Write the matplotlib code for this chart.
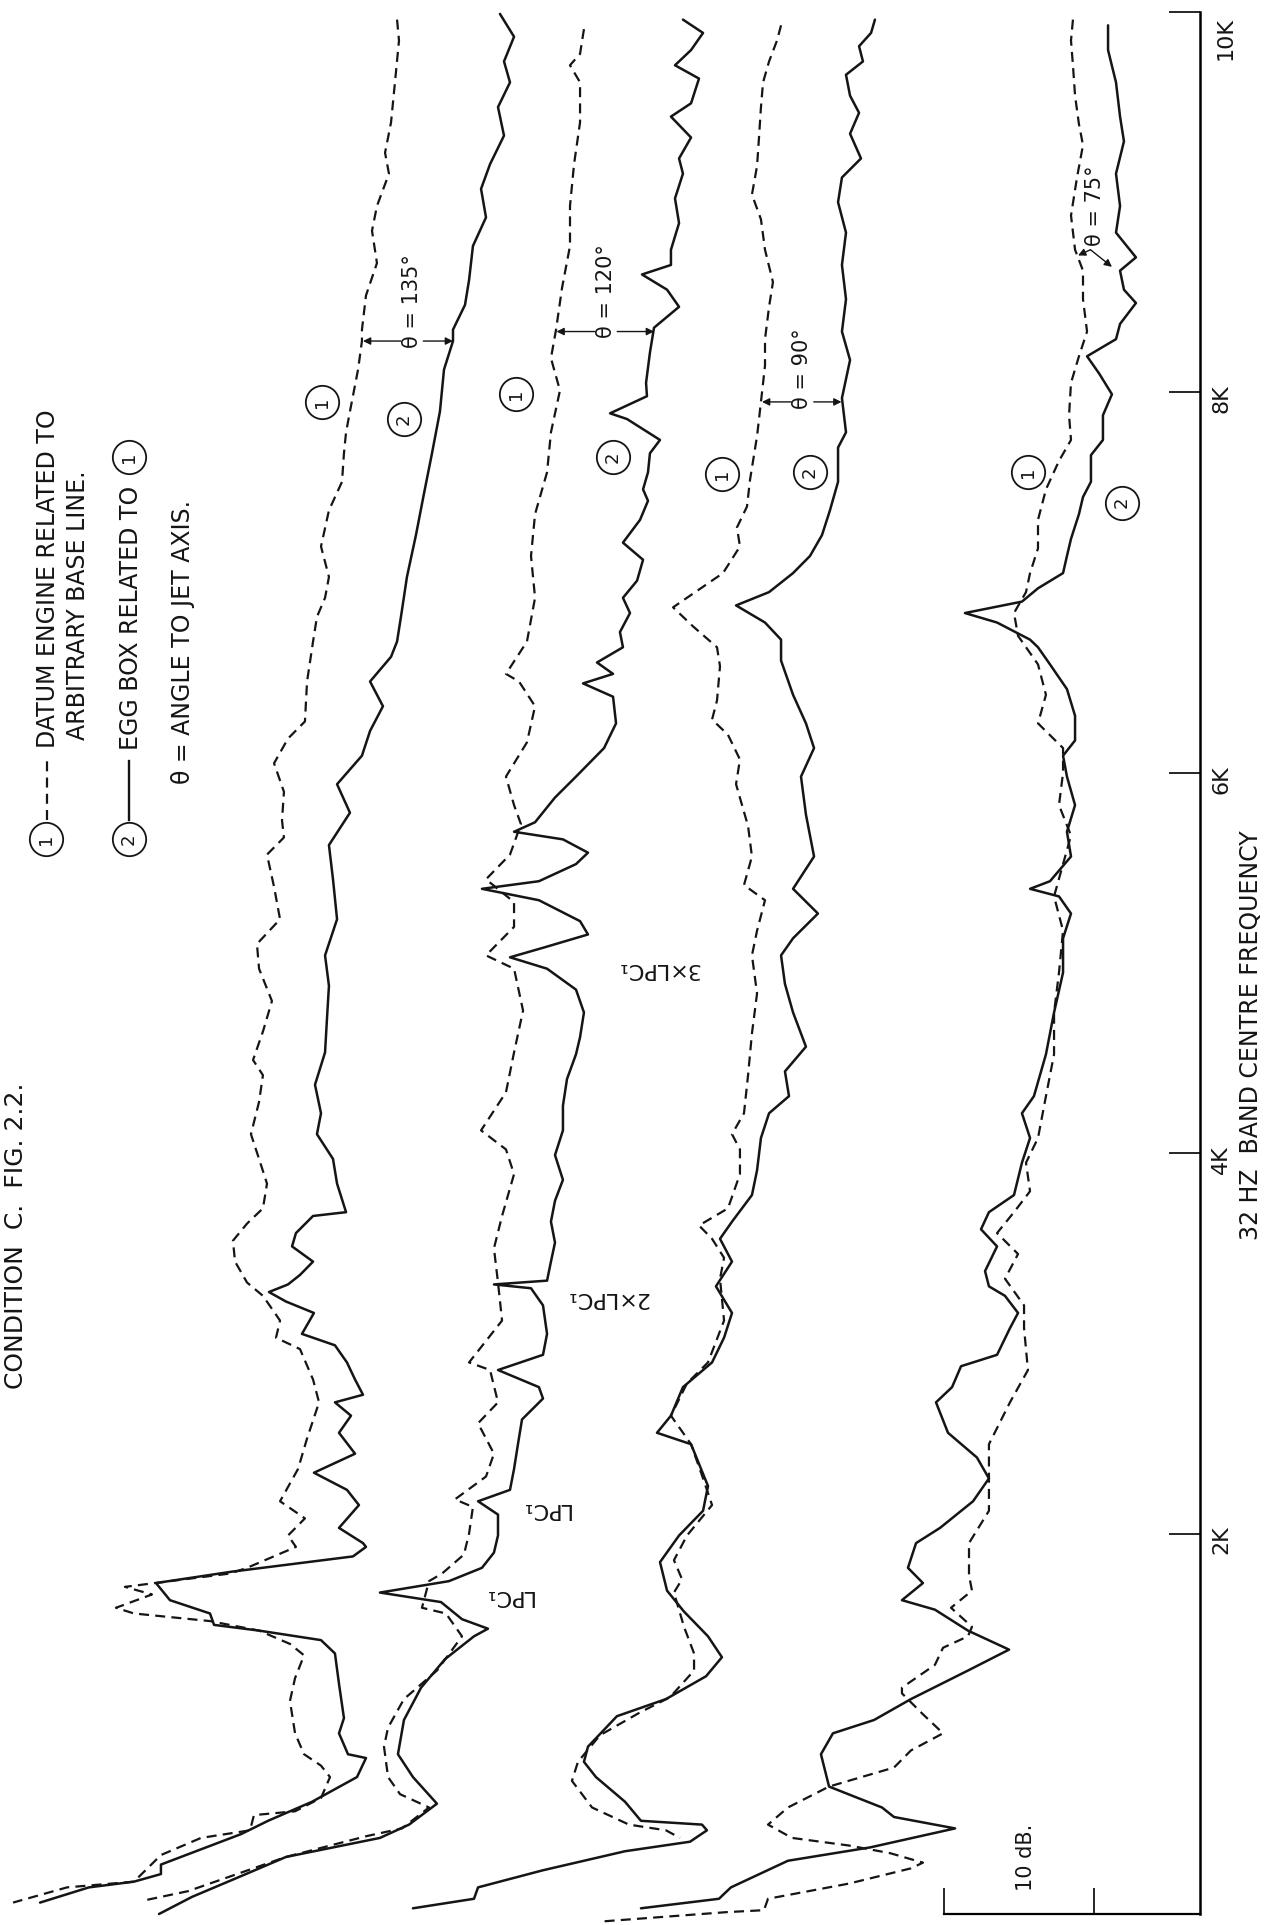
import matplotlib.pyplot as plt

plt.rcParams['font.family'] = 'DejaVu Sans'
INK = '#151515'
DASH = (0, (4.5, 2.8))

# level in dB (arbitrary base line), frequency in kHz
# theta = 135 deg
f_135_datum = [9.96, 9.85, 9.63, 9.42, 9.26, 9.15, 8.98, 8.85, 8.68, 8.51, 8.33, 8.27, 8.12, 7.90, 7.79, 7.68,
               7.53, 7.38, 7.19, 7.03, 6.92, 6.82, 6.69, 6.48, 6.27, 6.18, 6.05, 5.90, 5.75, 5.66, 5.57, 5.40,
               5.23, 5.10, 4.97, 4.80, 4.64, 4.49, 4.41, 4.27, 4.10, 3.97, 3.84, 3.71, 3.63, 3.54, 3.43, 3.32,
               3.25, 3.12, 3.03, 2.97, 2.81, 2.69, 2.50, 2.34, 2.17, 2.08, 1.99, 1.93, 1.82, 1.79, 1.72, 1.68,
               1.61, 1.58, 1.54, 1.49, 1.42, 1.36, 1.24, 1.12, 0.95, 0.84, 0.78, 0.72, 0.61, 0.54, 0.52, 0.44,
               0.40, 0.31, 0.17, 0.14, 0.06]
lvl_135_datum = [26.47, 26.6, 26.33, 26.07, 25.67, 25.93, 25.13, 24.8, 25.13, 24.4, 24.13, 24.13, 23.87, 23.33,
                 23.07, 22.93, 22.8, 21.93, 21.4, 21.93, 21.67, 21.13, 20.87, 20.47, 20.33, 19.2, 18.27, 18.93,
                 18.8, 18.93, 17.8, 18.27, 18.67, 17.13, 17.27, 18.13, 17.53, 16.87, 17.53, 17.27, 16.73, 17.27,
                 17.8, 17.53, 16.47, 15.53, 15.67, 16.47, 17.53, 18.67, 18.4, 20.0, 20.87, 21.27, 20.47, 19.87,
                 18.67, 20.33, 19.2, 19.73, 16.47, 15.33, 8.33, 10.13, 7.73, 8.93, 14.0, 17.27, 19.33, 20.27,
                 19.67, 19.33, 19.67, 20.27, 21.4, 22.0, 21.4, 19.67, 16.93, 16.67, 13.4, 10.73, 8.93, 4.47, 0.87]
f_135_egg = [9.99, 9.87, 9.74, 9.63, 9.50, 9.35, 9.20, 9.07, 8.92, 8.77, 8.59, 8.46, 8.33, 8.27, 8.12, 7.90,
             7.68, 7.47, 7.25, 7.03, 6.82, 6.69, 6.61, 6.48, 6.35, 6.22, 6.09, 5.94, 5.79, 5.62, 5.44, 5.23,
             5.04, 4.88, 4.71, 4.53, 4.36, 4.21, 4.10, 3.97, 3.84, 3.69, 3.67, 3.58, 3.51, 3.43, 3.36, 3.31,
             3.27, 3.22, 3.16, 3.05, 2.99, 2.90, 2.81, 2.73, 2.69, 2.62, 2.53, 2.42, 2.32, 2.23, 2.15, 2.03,
             1.95, 1.93, 1.88, 1.80, 1.74, 1.65, 1.58, 1.52, 1.49, 1.44, 1.37, 1.21, 1.03, 0.95, 0.84, 0.82,
             0.72, 0.59, 0.49, 0.42, 0.26, 0.21, 0.17, 0.14, 0.06]
lvl_135_egg = [33.33, 34.27, 33.6, 34.0, 33.2, 33.6, 32.67, 32.07, 32.4, 31.53, 31.27, 31.0, 30.2, 30.2, 29.6,
               29.33, 28.8, 28.27, 27.73, 27.13, 26.73, 26.47, 26.07, 24.67, 25.53, 24.67, 24.13, 22.47, 23.33,
               21.93, 22.2, 22.47, 21.67, 21.93, 21.8, 21.67, 21.0, 21.4, 21.13, 22.2, 22.47, 23.07, 20.87, 19.73,
               19.47, 20.87, 20.0, 19.2, 17.93, 19.07, 20.93, 20.13, 22.33, 23.13, 23.67, 24.2, 22.33, 23.4,
               22.6, 23.67, 20.93, 23.13, 23.93, 22.6, 24.2, 24.4, 23.53, 15.47, 10.4, 11.33, 14.0, 14.27,
               17.27, 21.4, 22.33, 22.6, 22.93, 22.6, 23.2, 24.4, 23.8, 20.8, 17.87, 16.07, 10.73, 10.73, 8.93,
               5.93, 2.67]

# theta = 120 deg
f_120_datum = [9.91, 9.78, 9.72, 9.63, 9.42, 9.20, 8.98, 8.77, 8.55, 8.33, 8.18, 8.01, 7.79, 7.58, 7.36, 7.14,
               6.92, 6.69, 6.52, 6.48, 6.35, 6.16, 5.98, 5.83, 5.73, 5.57, 5.44, 5.32, 5.19, 5.04, 4.97, 4.75,
               4.53, 4.32, 4.12, 4.02, 3.89, 3.67, 3.50, 3.32, 3.12, 2.90, 2.86, 2.69, 2.58, 2.42, 2.30, 2.18,
               2.14, 2.00, 1.89, 1.79, 1.75, 1.61, 1.58, 1.46, 1.28, 1.13, 0.98, 0.88, 0.72, 0.63, 0.56, 0.45,
               0.41, 0.30, 0.21, 0.12, 0.07]
lvl_120_datum = [38.93, 38.67, 38.0, 38.67, 38.67, 38.27, 38.0, 38.0, 37.47, 37.07, 36.73, 37.33, 36.73, 36.47,
                 35.67, 35.4, 35.67, 35.13, 33.73, 34.6, 35.67, 35.13, 33.73, 34.27, 34.73, 34.0, 32.4, 34.27,
                 34.27, 32.4, 34.27, 34.87, 34.27, 33.73, 32.07, 33.73, 34.27, 33.47, 32.93, 33.2, 33.47, 31.27,
                 32.67, 33.2, 31.87, 32.93, 32.4, 30.33, 31.53, 31.27, 30.93, 29.47, 28.6, 28.13, 29.73, 30.8,
                 29.13, 26.93, 25.87, 25.6, 25.87, 26.67, 28.6, 26.8, 24.47, 19.07, 15.8, 12.53, 9.53]
f_120_egg = [9.96, 9.89, 9.80, 9.72, 9.65, 9.52, 9.45, 9.34, 9.23, 9.15, 9.02, 8.89, 8.75, 8.67, 8.62, 8.54,
             8.45, 8.34, 8.21, 8.05, 7.98, 7.89, 7.86, 7.75, 7.68, 7.58, 7.49, 7.43, 7.33, 7.21, 7.12, 7.01,
             6.92, 6.84, 6.74, 6.66, 6.58, 6.52, 6.47, 6.40, 6.26, 6.13, 5.98, 5.87, 5.74, 5.69, 5.65, 5.58,
             5.52, 5.43, 5.39, 5.33, 5.22, 5.15, 5.08, 5.03, 4.97, 4.86, 4.74, 4.61, 4.52, 4.39, 4.25, 4.12,
             3.99, 3.86, 3.75, 3.64, 3.53, 3.43, 3.33, 3.31, 3.29, 3.20, 3.05, 2.94, 2.86, 2.77, 2.71, 2.60,
             2.47, 2.34, 2.23, 2.17, 2.10, 1.99, 1.90, 1.82, 1.75, 1.69, 1.64, 1.55, 1.50, 1.46, 1.34, 1.19,
             1.02, 0.84, 0.72, 0.58, 0.47, 0.40, 0.30, 0.19, 0.09, 0.00]
lvl_120_egg = [45.53, 46.87, 46.07, 45.0, 46.6, 46.07, 44.73, 46.07, 45.27, 45.53, 45.0, 45.27, 44.73, 44.73,
               42.8, 44.47, 45.27, 43.6, 43.33, 43.07, 43.13, 40.67, 41.8, 44.0, 43.33, 43.2, 42.87, 43.2, 42.67,
               41.53, 42.87, 42.47, 41.53, 42.0, 41.33, 41.53, 39.8, 40.87, 38.87, 40.87, 41.07, 40.27, 38.4,
               37.0, 35.67, 34.27, 37.53, 39.2, 38.4, 35.93, 32.13, 35.93, 38.67, 39.2, 36.2, 34.0, 36.47, 38.4,
               38.93, 38.67, 38.4, 37.8, 37.53, 37.53, 37.0, 37.53, 37.0, 36.73, 37.0, 36.73, 36.47, 32.93,
               35.4, 36.2, 36.47, 36.2, 33.2, 35.93, 36.2, 34.8, 34.53, 34.27, 34.0, 31.87, 33.2, 33.2, 32.93,
               32.13, 29.93, 25.33, 29.4, 30.8, 32.53, 31.6, 29.67, 28.07, 26.93, 26.53, 27.53, 29.13, 27.27,
               25.33, 19.07, 15.8, 12.8, 10.6]

# theta = 90 deg
f_90_datum = [9.93, 9.85, 9.74, 9.63, 9.50, 9.34, 9.19, 9.04, 8.91, 8.75, 8.58, 8.45, 8.28, 8.14, 7.95, 7.77,
              7.54, 7.40, 7.29, 7.19, 7.05, 6.87, 6.77, 6.66, 6.56, 6.38, 6.28, 6.20, 6.07, 5.94, 5.72, 5.56,
              5.41, 5.33, 5.17, 5.04, 4.84, 4.63, 4.41, 4.21, 4.10, 4.02, 3.89, 3.71, 3.62, 3.55, 3.45, 3.34,
              3.12, 2.90, 2.79, 2.62, 2.47, 2.29, 2.15, 1.99, 1.86, 1.76, 1.69, 1.51, 1.37, 1.28, 1.14, 1.06,
              0.94, 0.80, 0.70, 0.56, 0.47, 0.44, 0.40]
lvl_90_datum = [52.07, 51.8, 51.27, 50.87, 50.73, 50.6, 50.47, 50.13, 50.73, 51.0, 51.53, 51.27, 51.0, 51.0,
                50.73, 50.47, 50.0, 49.8, 49.13, 49.33, 48.2, 44.87, 46.2, 47.8, 48.0, 47.8, 47.47, 48.53, 49.33,
                49.07, 49.87, 50.13, 49.6, 51.0, 50.47, 50.13, 50.47, 50.13, 49.87, 49.6, 48.8, 49.33, 49.33,
                48.53, 46.6, 47.47, 48.27, 48.0, 48.27, 47.2, 45.8, 44.73, 46.07, 46.87, 47.47, 45.8, 44.93,
                45.47, 44.93, 45.6, 46.27, 46.27, 44.67, 42.67, 40.0, 38.53, 38.13, 39.47, 41.93, 44.4, 45.33]
f_90_egg = [9.96, 9.89, 9.82, 9.74, 9.67, 9.56, 9.47, 9.36, 9.23, 9.13, 9.00, 8.84, 8.67, 8.49, 8.32, 8.17,
            7.97, 7.79, 7.71, 7.53, 7.38, 7.25, 7.14, 7.05, 6.95, 6.88, 6.79, 6.70, 6.59, 6.41, 6.26, 6.13,
            5.98, 5.78, 5.56, 5.39, 5.26, 5.13, 5.04, 4.89, 4.74, 4.56, 4.43, 4.30, 4.21, 4.08, 3.91, 3.78,
            3.64, 3.55, 3.43, 3.30, 3.16, 3.03, 2.90, 2.77, 2.62, 2.53, 2.47, 2.25, 2.12, 1.99, 1.85, 1.70,
            1.59, 1.46, 1.35, 1.25, 1.13, 1.04, 0.88, 0.80, 0.72, 0.59, 0.49, 0.47, 0.44, 0.38, 0.33, 0.23,
            0.14, 0.08, 0.03]
lvl_90_egg = [58.33, 58.07, 57.27, 57.53, 56.4, 56.67, 57.27, 56.67, 57.4, 56.13, 55.87, 56.4, 56.13, 56.4,
              56.13, 56.67, 56.13, 56.4, 55.87, 55.87, 55.33, 54.8, 54.0, 52.87, 51.27, 49.07, 51.0, 52.07,
              52.07, 52.87, 53.73, 54.27, 53.4, 53.73, 54.27, 52.87, 54.53, 52.87, 52.07, 52.33, 52.87, 53.73,
              52.33, 52.6, 51.27, 50.73, 50.47, 50.13, 48.8, 48.0, 48.8, 47.73, 48.8, 48.27, 47.47, 45.53, 44.73,
              43.8, 46.07, 47.2, 46.87, 45.27, 44.0, 44.47, 45.6, 47.2, 48.13, 47.07, 44.4, 41.13, 39.2, 38.93,
              39.73, 41.67, 42.73, 46.8, 47.13, 46.0, 41.67, 36.2, 31.87, 31.6, 27.53]

# theta = 75 deg
f_75_datum = [9.96, 9.85, 9.72, 9.56, 9.41, 9.30, 9.13, 8.93, 8.75, 8.64, 8.49, 8.32, 8.19, 8.05, 7.88, 7.75,
              7.64, 7.49, 7.33, 7.18, 7.05, 6.95, 6.84, 6.72, 6.57, 6.41, 6.26, 6.13, 6.00, 5.83, 5.67, 5.52,
              5.35, 5.17, 4.95, 4.74, 4.52, 4.30, 4.08, 3.95, 3.80, 3.69, 3.58, 3.47, 3.34, 3.20, 3.08, 2.86,
              2.69, 2.47, 2.29, 2.12, 1.95, 1.78, 1.70, 1.61, 1.51, 1.46, 1.40, 1.31, 1.19, 1.16, 1.05, 0.95,
              0.86, 0.77, 0.67, 0.56, 0.47, 0.40, 0.36, 0.32, 0.27, 0.24, 0.16, 0.08, 0.02, 0.01, -0.04]
lvl_75_datum = [71.53, 71.4, 71.53, 71.67, 71.93, 72.2, 71.8, 71.4, 71.67, 72.2, 72.2, 72.47, 71.93, 71.4, 71.27,
                71.4, 70.6, 69.73, 69.2, 69.2, 68.67, 68.4, 67.6, 67.87, 69.2, 69.73, 69.2, 70.87, 70.87, 70.6,
                71.4, 70.87, 70.27, 70.87, 70.6, 70.27, 70.27, 69.73, 69.2, 68.4, 68.67, 67.6, 66.47, 67.87, 67.0,
                68.27, 68.27, 68.53, 67.33, 65.93, 65.93, 65.93, 64.6, 64.6, 64.8, 63.4, 64.8, 64.53, 62.87,
                62.33, 60.13, 60.13, 61.53, 62.87, 60.73, 59.6, 55.27, 52.53, 51.2, 52.8, 56.6, 59.33, 61.53,
                60.73, 56.6, 51.2, 50.93, 48.47, 40.0]
f_75_egg = [9.93, 9.80, 9.63, 9.45, 9.32, 9.15, 8.98, 8.84, 8.71, 8.64, 8.54, 8.47, 8.36, 8.28, 8.19, 8.10,
            7.99, 7.88, 7.75, 7.67, 7.53, 7.45, 7.36, 7.23, 7.14, 7.05, 6.97, 6.90, 6.84, 6.79, 6.70, 6.66,
            6.57, 6.44, 6.30, 6.17, 6.09, 5.98, 5.83, 5.69, 5.56, 5.43, 5.39, 5.35, 5.26, 5.13, 4.95, 4.74,
            4.52, 4.30, 4.21, 4.08, 3.95, 3.78, 3.69, 3.60, 3.51, 3.38, 3.30, 3.25, 3.16, 3.08, 2.94, 2.88,
            2.77, 2.69, 2.53, 2.40, 2.29, 2.17, 2.03, 1.95, 1.82, 1.74, 1.65, 1.60, 1.49, 1.39, 1.28, 1.13,
            1.02, 0.95, 0.84, 0.67, 0.62, 0.56, 0.51, 0.45, 0.35, 0.28, 0.14, 0.08, 0.03]
lvl_75_egg = [73.87, 73.87, 74.4, 74.67, 74.93, 74.4, 74.67, 74.4, 75.73, 74.67, 74.93, 75.73, 74.67, 74.4,
              72.47, 73.27, 74.13, 73.53, 73.53, 72.73, 72.73, 72.2, 71.93, 71.4, 71.13, 70.87, 69.2, 68.13,
              64.33, 66.47, 68.67, 69.2, 70.0, 71.13, 71.67, 71.67, 70.87, 71.13, 71.67, 71.13, 71.4, 70.0,
              68.67, 70.6, 71.4, 70.87, 70.87, 70.27, 69.73, 68.93, 68.13, 68.67, 68.13, 67.6, 65.93, 65.4,
              66.47, 65.67, 65.93, 67.0, 67.87, 67.33, 66.47, 64.07, 63.47, 62.4, 63.2, 65.13, 65.93, 64.87,
              62.67, 61.07, 60.53, 61.53, 60.13, 62.33, 64.53, 67.27, 64.53, 60.73, 58.27, 55.53, 54.73, 55.27,
              56.87, 58.8, 59.6, 63.67, 58.0, 52.53, 48.73, 47.93, 42.73]

freq_ticks = [2, 4, 6, 8, 10]
freq_labels = ['2K', '4K', '6K', '8K', '']
db_bar = [62.9, 72.9]   # the 10 dB scale bar

pairs = [(f_135_datum, lvl_135_datum, f_135_egg, lvl_135_egg),
         (f_120_datum, lvl_120_datum, f_120_egg, lvl_120_egg),
         (f_90_datum, lvl_90_datum, f_90_egg, lvl_90_egg),
         (f_75_datum, lvl_75_datum, f_75_egg, lvl_75_egg)]

fig = plt.figure(figsize=(12.7, 19.25), dpi=100)
ax = fig.add_axes([0, 11 / 1925, 1200 / 1270, 1902 / 1925])
ax.set_xlim(0, 80)
ax.set_ylim(0, 10)

for fd, ld, fe, le in pairs:
    ax.plot(ld, fd, color=INK, lw=1.6, ls=DASH, dash_joinstyle='round', clip_on=False)
    ax.plot(le, fe, color=INK, lw=1.8, solid_joinstyle='round', solid_capstyle='round', clip_on=False)

# axes: frequency line on the right, 10 dB bar at the bottom
ax.spines['left'].set_visible(False)
ax.spines['top'].set_visible(False)
ax.spines['right'].set_linewidth(1.8)
ax.spines['bottom'].set_linewidth(1.6)
ax.spines['bottom'].set_bounds(db_bar[0], 80)
ax.set_xticks(db_bar)
ax.set_xticklabels([])
ax.tick_params(axis='x', direction='in', length=19, width=1.3, color=INK)
ax.yaxis.set_ticks_position('right')
ax.set_yticks(freq_ticks)
ax.set_yticklabels(freq_labels)
ax.tick_params(axis='y', direction='in', length=22, width=1.3, color=INK,
               labelsize=16, pad=8, labelrotation=90, labelcolor=INK)
ax.text(81.7, 9.86, '10K', rotation=90, ha='center', va='center', fontsize=16, color=INK)
ax.text(83.4, 4.62, '32 HZ  BAND CENTRE FREQUENCY', rotation=90, ha='center', va='center',
        fontsize=17, color=INK, clip_on=False)
ax.text(68.4, 0.3, '10 dB.', rotation=90, ha='center', va='center', fontsize=15, color=INK)

# title and key
fig.text(16 / 1270, 1 - 1236 / 1925, 'CONDITION  C.  FIG. 2.2.', rotation=90, ha='center', va='center',
         fontsize=18, color=INK)


def circled(x, y, digit, size=24):
    ax.plot([x], [y], marker='o', ms=size, mfc='none', mec=INK, mew=1.3, clip_on=False)
    ax.text(x, y, digit, rotation=90, ha='center', va='center', fontsize=13, color=INK)


circled(3.07, 5.65, '1')
ax.plot([3.1, 3.1], [5.75, 6.08], color=INK, lw=1.6, ls=DASH)
ax.text(3.2, 6.13, 'DATUM ENGINE RELATED TO', rotation=90, ha='center', va='bottom', fontsize=17, color=INK)
ax.text(5.2, 6.17, 'ARBITRARY BASE LINE.', rotation=90, ha='center', va='bottom', fontsize=17, color=INK)
circled(8.6, 5.65, '2')
ax.plot([8.6, 8.6], [5.75, 6.06], color=INK, lw=1.7)
egg = ax.text(8.73, 6.12, 'EGG BOX RELATED TO', rotation=90, ha='center', va='bottom', fontsize=17, color=INK)
ax.text(12.2, 5.94, '\u03b8 = ANGLE TO JET AXIS.', rotation=90, ha='center', va='bottom', fontsize=17,
        color=INK)
fig.canvas.draw()
top = ax.transData.inverted().transform((0, egg.get_window_extent().y1))[1]
circled(8.6, top + 0.15, '1')

# curve labels
for x, y, d in [(21.47, 7.95, '1'), (26.93, 7.86, '2'), (34.4, 7.99, '1'), (40.87, 7.66, '2'),
                (48.13, 7.57, '1'), (54.0, 7.58, '2'), (68.53, 7.58, '1'), (74.8, 7.42, '2')]:
    circled(x, y, d)

# angle markers between the two traces of each pair
arrow = dict(arrowstyle='-|>', lw=1.0, color=INK, mutation_scale=11, shrinkA=0, shrinkB=0)
for xt, fy, xl, xr, label in [(27.47, 8.27, 24.2, 30.2, '135'), (40.4, 8.32, 37.1, 43.6, '120'),
                              (53.5, 7.95, 50.8, 56.1, '90')]:
    ax.annotate('', xy=(xl, fy), xytext=(xt - 0.75, fy), arrowprops=arrow)
    ax.annotate('', xy=(xr, fy), xytext=(xt + 0.75, fy), arrowprops=arrow)
    ax.text(xt, fy - 0.035, '\u03b8 = %s\u00b0' % label, rotation=90, ha='center', va='bottom',
            fontsize=15, color=INK)
ax.annotate('', xy=(71.87, 8.72), xytext=(72.7, 8.75), arrowprops=arrow)
ax.annotate('', xy=(74.13, 8.66), xytext=(72.7, 8.75), arrowprops=arrow)
ax.text(73.0, 8.77, '\u03b8 = 75\u00b0', rotation=90, ha='center', va='bottom', fontsize=15, color=INK)

# LPC markers (written upside down in the original)
for x, y, s in [(36.33, 2.13, 'LPC\u2081'), (33.87, 1.67, 'LPC\u2081'), (40.47, 3.24, '2\u00d7LPC\u2081'),
                (43.87, 4.97, '3\u00d7LPC\u2081')]:
    ax.text(x, y, s, rotation=180, ha='center', va='center', fontsize=16, color=INK)

fig.savefig('out.png', dpi=100, facecolor='white')
